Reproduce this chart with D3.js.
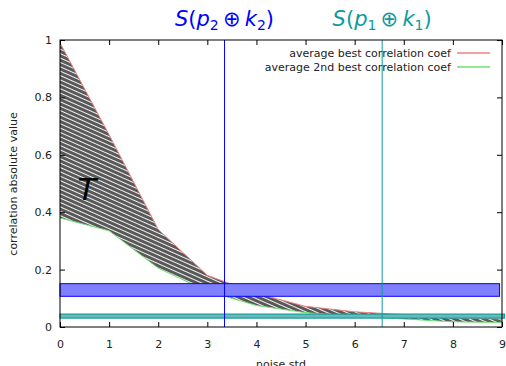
<!DOCTYPE html>
<html>
<head>
<meta charset="utf-8">
<script src="https://cdn.jsdelivr.net/npm/d3@7"></script>
<style>
  html, body { margin: 0; padding: 0; background: #fff; }
  svg { display: block; font-family: "DejaVu Sans", sans-serif; }
</style>
</head>
<body>
<svg id="chart" width="506" height="366"></svg>
<script>
// noise standard deviation (x) and averaged correlation coefficients
const noiseStd = [0, 1, 2, 3, 4, 5, 6, 7, 8, 9];
const bestCoef = [0.99, 0.67, 0.34, 0.18, 0.117, 0.072, 0.053, 0.043, 0.032, 0.028];
const secondCoef = [0.38, 0.335, 0.205, 0.125, 0.075, 0.05, 0.038, 0.028, 0.018, 0.016];

const xTicks = [0, 1, 2, 3, 4, 5, 6, 7, 8, 9];
const yTicks = [0, 0.2, 0.4, 0.6, 0.8, 1];
const yTickLabels = ["0", "0.2", "0.4", "0.6", "0.8", "1"];

// marker positions for the two S-box outputs
const markerX = [3.35, 6.56];
const markerColors = ["#0000ff", "#109a9e"];
// horizontal bands: [low, high, right end]
const blueBand = [0.107, 0.151, 8.95];
const tealBand = [0.031, 0.045, 9.05];

const legendLabels = ["average best correlation coef", "average 2nd best correlation coef"];
const lineColors = ["#f08080", "#70e070"];

const svg = d3.select("#chart");
const W = 506, H = 366;
const m = { left: 60, right: 4, top: 40, bottom: 39 };

const x = d3.scaleLinear().domain([0, 9]).range([m.left, W - m.right]);
const y = d3.scaleLinear().domain([0, 1]).range([H - m.bottom, m.top]);

// hatch pattern for the region between the two curves
const defs = svg.append("defs");
const pat = defs.append("pattern")
  .attr("id", "hatch")
  .attr("patternUnits", "userSpaceOnUse")
  .attr("width", 20).attr("height", 4)
  .attr("patternTransform", "rotate(24)");
pat.append("rect").attr("width", 20).attr("height", 4).attr("fill", "#595959");
pat.append("rect").attr("y", 0).attr("width", 20).attr("height", 1).attr("fill", "#f2f2f2");

defs.append("clipPath").attr("id", "plotClip")
  .append("rect").attr("x", m.left).attr("y", m.top)
  .attr("width", W - m.left - m.right).attr("height", H - m.top - m.bottom);

const data = noiseStd.map((v, i) => ({ x: v, hi: bestCoef[i], lo: secondCoef[i] }));

const plot = svg.append("g").attr("clip-path", "url(#plotClip)");

plot.append("path")
  .datum(data)
  .attr("fill", "url(#hatch)")
  .attr("d", d3.area().x(d => x(d.x)).y0(d => y(d.lo)).y1(d => y(d.hi)));

plot.append("path").datum(data)
  .attr("fill", "none").attr("stroke", lineColors[0]).attr("stroke-width", 1)
  .attr("d", d3.line().x(d => x(d.x)).y(d => y(d.hi)));
plot.append("path").datum(data)
  .attr("fill", "none").attr("stroke", lineColors[1]).attr("stroke-width", 1)
  .attr("d", d3.line().x(d => x(d.x)).y(d => y(d.lo)));

// bands
svg.append("rect")
  .attr("x", x(0)).attr("y", y(blueBand[1]))
  .attr("width", x(blueBand[2]) - x(0)).attr("height", y(blueBand[0]) - y(blueBand[1]))
  .attr("fill", "#8080ff").attr("stroke", "#0000ff").attr("stroke-width", 1);

svg.append("rect")
  .attr("x", x(0)).attr("y", y(tealBand[1]))
  .attr("width", x(tealBand[2]) - x(0)).attr("height", y(tealBand[0]) - y(tealBand[1]))
  .attr("fill", "#66bcbc").attr("stroke", "#1f9a9a").attr("stroke-width", 1.2);

// vertical markers
svg.selectAll("line.marker").data(markerX).join("line")
  .attr("class", "marker")
  .attr("x1", d => x(d)).attr("x2", d => x(d))
  .attr("y1", y(1)).attr("y2", y(0))
  .attr("stroke", (d, i) => markerColors[i]).attr("stroke-width", 1);

// frame
svg.append("rect")
  .attr("x", x(0)).attr("y", y(1))
  .attr("width", x(9) - x(0)).attr("height", y(0) - y(1))
  .attr("fill", "none").attr("stroke", "#000").attr("stroke-width", 1);

// axes with inward ticks, mirrored on top and right
const tickLen = 5;
const xAxis = svg.append("g").attr("transform", `translate(0,${y(0)})`)
  .call(d3.axisBottom(x).tickValues(xTicks).tickSizeInner(-tickLen).tickSizeOuter(0).tickPadding(13).tickFormat(d3.format("d")));
const xTop = svg.append("g").attr("transform", `translate(0,${y(1)})`)
  .call(d3.axisTop(x).tickValues(xTicks).tickSizeInner(-tickLen).tickSizeOuter(0).tickFormat(""));
const yAxis = svg.append("g").attr("transform", `translate(${x(0)},0)`)
  .call(d3.axisLeft(y).tickValues(yTicks).tickSizeInner(-tickLen).tickSizeOuter(0).tickPadding(8)
    .tickFormat((d, i) => yTickLabels[i]));
const yRight = svg.append("g").attr("transform", `translate(${x(9)},0)`)
  .call(d3.axisRight(y).tickValues(yTicks).tickSizeInner(-tickLen).tickSizeOuter(0).tickFormat(""));

[xAxis, xTop, yAxis, yRight].forEach(g => {
  g.select(".domain").remove();
  g.selectAll(".tick line").attr("stroke", "#000");
  g.selectAll("text").attr("font-family", "DejaVu Sans, sans-serif").attr("font-size", 11).attr("fill", "#222");
});

// axis titles
svg.append("text")
  .attr("x", 281).attr("y", 368)
  .attr("text-anchor", "middle").attr("font-size", 11).attr("fill", "#222")
  .text("noise std");
svg.append("text")
  .attr("transform", "translate(17,184) rotate(-90)")
  .attr("text-anchor", "middle").attr("font-size", 11).attr("fill", "#222")
  .text("correlation absolute value");

// legend
const legend = svg.append("g");
legendLabels.forEach((lab, i) => {
  const ly = 53 + i * 14;
  legend.append("text")
    .attr("x", 451).attr("y", ly + 4)
    .attr("text-anchor", "end").attr("font-size", 11).attr("fill", "#222")
    .text(lab);
  legend.append("line")
    .attr("x1", 457).attr("x2", 490).attr("y1", ly).attr("y2", ly)
    .attr("stroke", lineColors[i]).attr("stroke-width", 1.5);
});

// region label
svg.append("text")
  .attr("x", 87).attr("y", 200)
  .attr("text-anchor", "middle").attr("font-size", 31).attr("font-style", "italic")
  .attr("fill", "#000").text("T");

// marker titles: S(p ⊕ k) with subscripts
const titles = [["2", "2"], ["1", "1"]];
titles.forEach((sub, i) => {
  const t = svg.append("text")
    .attr("x", x(markerX[i])).attr("y", 26)
    .attr("text-anchor", "middle").attr("font-size", 21)
    .attr("fill", markerColors[i]);
  t.append("tspan").attr("font-style", "italic").text("S");
  t.append("tspan").text("(");
  t.append("tspan").attr("font-style", "italic").text("p");
  t.append("tspan").attr("font-size", 14).attr("dy", 4).text(sub[0]);
  t.append("tspan").attr("dy", -4).text("\u2009\u2295\u2009");
  t.append("tspan").attr("font-style", "italic").text("k");
  t.append("tspan").attr("font-size", 14).attr("dy", 4).text(sub[1]);
  t.append("tspan").attr("dy", -4).text(")");
});
</script>
</body>
</html>
